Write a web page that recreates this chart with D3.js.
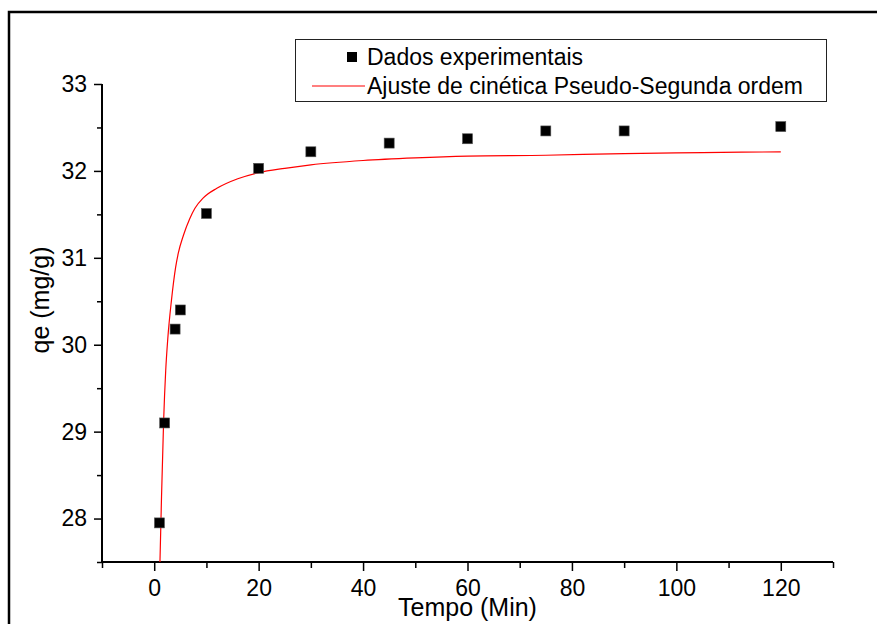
<!DOCTYPE html>
<html>
<head>
<meta charset="utf-8">
<script src="https://cdn.jsdelivr.net/npm/d3@7"></script>
<style>
  html, body { margin: 0; padding: 0; background: #fff; }
  svg { display: block; font-family: "Liberation Sans", Arial, sans-serif; }
</style>
</head>
<body>
<svg id="chart" width="877" height="624"></svg>
<script>
// ---- data ----
const expTime = [1, 2, 4, 5, 10, 20, 30, 45, 60, 75, 90, 120];
const expQe   = [27.95, 29.10, 30.18, 30.40, 31.51, 32.03, 32.22, 32.32, 32.37, 32.46, 32.46, 32.51];

// fitted curve
const fitTime = [1.1, 1.4, 1.8, 2.2, 2.6, 3.3, 4.1, 4.6, 5.6, 6.8, 7.8, 9.4, 12, 16, 20, 25, 30, 40, 50, 60, 75, 90, 105, 120];
const fitQe   = [27.50, 28.25, 29.12, 29.70, 30.07, 30.51, 30.89, 31.05, 31.26, 31.45, 31.57, 31.69, 31.80, 31.91, 31.98, 32.03, 32.07, 32.12, 32.15, 32.17, 32.18, 32.20, 32.21, 32.22];

const xMajorTicks = [0, 20, 40, 60, 80, 100, 120];
const xMinorTicks = [-10, 10, 30, 50, 70, 90, 110, 130];
const yMajorTicks = [28, 29, 30, 31, 32, 33];
const yMinorTicks = [27.5, 28.5, 29.5, 30.5, 31.5, 32.5];

const xTitle = "Tempo (Min)";
const yTitle = "qe (mg/g)";
const legendLabels = ["Dados experimentais", "Ajuste de cinética Pseudo-Segunda ordem"];

// ---- drawing ----
const svg = d3.select("#chart");
const L = 102, R = 833, T = 84, B = 562;
const x = d3.scaleLinear().domain([-10, 130]).range([L, R]);
const y = d3.scaleLinear().domain([27.5, 33]).range([B, T]);

// outer frame (left + top edges)
svg.append("path")
  .attr("d", "M9,624 L9,12 L877,12")
  .attr("fill", "none").attr("stroke", "#000").attr("stroke-width", 2.5);

const tickFont = 23;

// x axis
const gx = svg.append("g").attr("transform", `translate(0,${B})`);
gx.call(d3.axisBottom(x).tickValues(xMajorTicks).tickSize(9).tickPadding(9).tickFormat(d3.format("d")));
gx.append("g").call(d3.axisBottom(x).tickValues(xMinorTicks).tickSize(6).tickFormat(""));
gx.selectAll(".domain").attr("stroke-width", 2).attr("d", `M${L},0H${R}`);
gx.selectAll(".tick line").attr("stroke-width", 1.5);
gx.selectAll(".tick text").attr("font-size", tickFont).attr("font-family", "Liberation Sans, Arial, sans-serif").attr("fill", "#000");

// y axis
const gy = svg.append("g").attr("transform", `translate(${L},0)`);
gy.call(d3.axisLeft(y).tickValues(yMajorTicks).tickSize(8).tickPadding(7).tickFormat(d3.format("d")));
gy.append("g").call(d3.axisLeft(y).tickValues(yMinorTicks).tickSize(5).tickFormat(""));
gy.selectAll(".domain").attr("stroke-width", 2).attr("d", `M0,${B}V${T}`);
gy.selectAll(".tick line").attr("stroke-width", 1.5);
gy.selectAll(".tick text").attr("font-size", tickFont).attr("font-family", "Liberation Sans, Arial, sans-serif").attr("fill", "#000");

// axis titles
svg.append("text")
  .attr("x", (L + R) / 2).attr("y", 616)
  .attr("text-anchor", "middle").attr("font-size", 25).attr("fill", "#000")
  .text(xTitle);
svg.append("text")
  .attr("transform", `translate(49,300) rotate(-90)`)
  .attr("text-anchor", "middle").attr("font-size", 25).attr("fill", "#000")
  .text(yTitle);

// clip
svg.append("clipPath").attr("id", "plotclip")
  .append("rect").attr("x", L).attr("y", T - 20).attr("width", R - L).attr("height", B - T + 20);

// fitted curve
const fitData = fitTime.map((t, i) => [t, fitQe[i]]);
svg.append("path")
  .datum(fitData)
  .attr("clip-path", "url(#plotclip)")
  .attr("fill", "none").attr("stroke", "#ff0000").attr("stroke-width", 1.2)
  .attr("d", d3.line().x(d => x(d[0])).y(d => y(d[1])).curve(d3.curveMonotoneX));

// experimental points
const sq = 10;
svg.append("g").selectAll("rect")
  .data(expTime.map((t, i) => [t, expQe[i]]))
  .join("rect")
  .attr("x", d => x(d[0]) - sq / 2).attr("y", d => y(d[1]) - sq / 2)
  .attr("width", sq).attr("height", sq)
  .attr("fill", "#000").attr("stroke", "#555").attr("stroke-width", 0.6);

// legend
const lg = svg.append("g");
lg.append("rect").attr("x", 295.5).attr("y", 39.5).attr("width", 531).attr("height", 62)
  .attr("fill", "#fff").attr("stroke", "#222").attr("stroke-width", 1);
lg.append("rect").attr("x", 347).attr("y", 52).attr("width", 10).attr("height", 10).attr("fill", "#000");
lg.append("text").attr("x", 367).attr("y", 65).attr("font-size", 23).attr("fill", "#000").text(legendLabels[0]);
lg.append("line").attr("x1", 312).attr("x2", 365).attr("y1", 86).attr("y2", 86)
  .attr("stroke", "#ff0000").attr("stroke-width", 1.2);
lg.append("text").attr("x", 367).attr("y", 94).attr("font-size", 23).attr("fill", "#000").text(legendLabels[1]);
</script>
</body>
</html>
